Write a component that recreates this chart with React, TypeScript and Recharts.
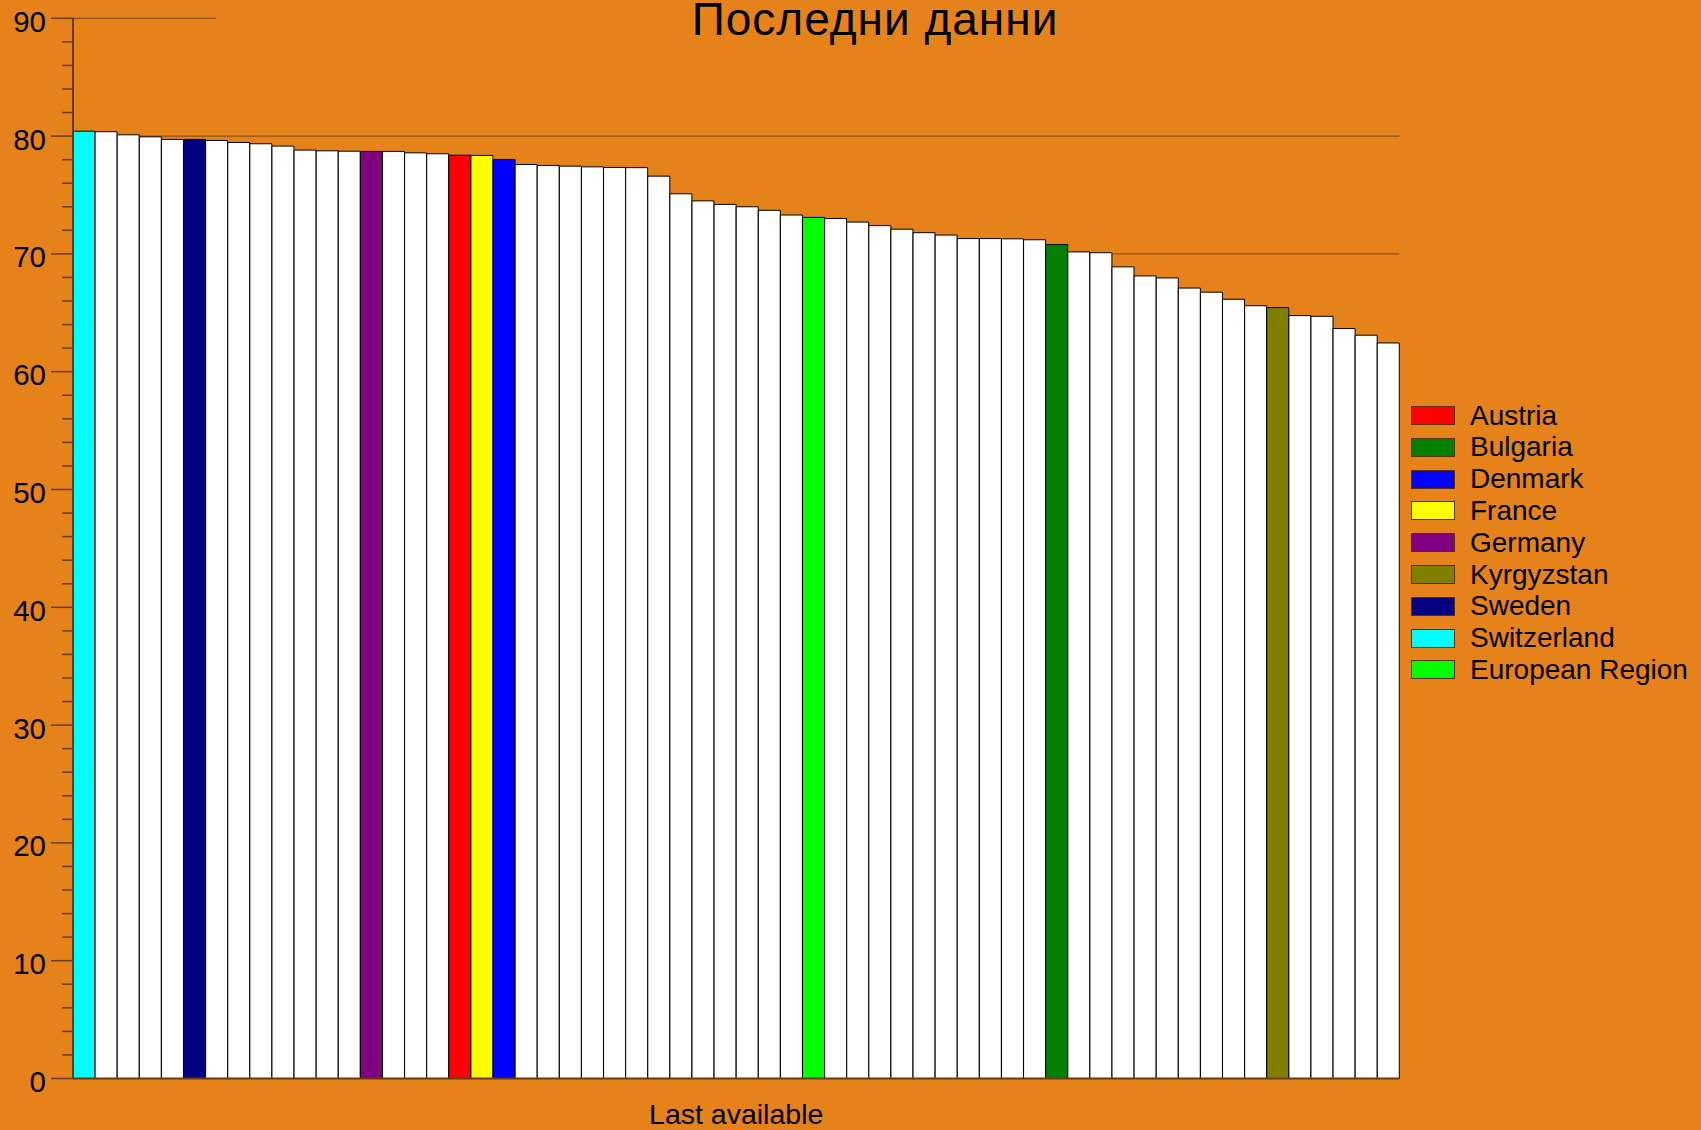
import React from "react";
import { BarChart, Bar, XAxis, YAxis, CartesianGrid, ReferenceLine, Cell, Label } from "recharts";

const categories = [
  "Switzerland", "c02", "c03", "c04", "c05", "Sweden", "c07", "c08", "c09", "c10",
  "c11", "c12", "c13", "Germany", "c15", "c16", "c17", "Austria", "France", "Denmark",
  "c21", "c22", "c23", "c24", "c25", "c26", "c27", "c28", "c29", "c30",
  "c31", "c32", "c33", "European Region", "c35", "c36", "c37", "c38", "c39", "c40",
  "c41", "c42", "c43", "c44", "Bulgaria", "c46", "c47", "c48", "c49", "c50",
  "c51", "c52", "c53", "c54", "Kyrgyzstan", "c56", "c57", "c58", "c59", "c60",
];

const values = [
  80.42, 80.37, 80.11, 79.94, 79.72, 79.72, 79.63, 79.46, 79.35, 79.15,
  78.81, 78.75, 78.72, 78.7, 78.7, 78.58, 78.5, 78.38, 78.36, 78.02,
  77.59, 77.51, 77.45, 77.39, 77.34, 77.32, 76.6, 75.1, 74.5, 74.2,
  74.0, 73.7, 73.3, 73.1, 73.0, 72.7, 72.4, 72.1, 71.8, 71.6,
  71.3, 71.3, 71.28, 71.2, 70.8, 70.17, 70.1, 68.9, 68.13, 67.96,
  67.1, 66.75, 66.15, 65.6, 65.44, 64.76, 64.7, 63.66, 63.1, 62.44,
];

const legendNames = [
  "Austria", "Bulgaria", "Denmark", "France", "Germany",
  "Kyrgyzstan", "Sweden", "Switzerland", "European Region",
];
const legendColors = [
  "#FF0000", "#008000", "#0000FF", "#FFFF00", "#800080",
  "#808000", "#000080", "#00FFFF", "#00FF00",
];

const yTicks = [
  0, 2, 4, 6, 8, 10, 12, 14, 16, 18, 20, 22, 24, 26, 28, 30, 32, 34, 36, 38,
  40, 42, 44, 46, 48, 50, 52, 54, 56, 58, 60, 62, 64, 66, 68, 70, 72, 74, 76, 78,
  80, 82, 84, 86, 88, 90,
];
const gridValues = [70, 80];

const title = "Последни данни";
const xLabel = "Last available";

const BG = "#E5831A";
const AXIS = "#6B3A0A";
const GRID = "#8A5418";
const FONT = "'Liberation Sans', Arial, sans-serif";

const data = categories.map((name, i) => ({ name, value: values[i] }));

const colorFor = (name: string) => {
  const idx = legendNames.indexOf(name);
  return idx >= 0 ? legendColors[idx] : "#FFFFFF";
};

const YTick = (props: any) => {
  const { x, y, payload } = props;
  const major = payload.value % 10 === 0;
  return (
    <g>
      <line x1={x - (major ? 22 : 11)} x2={x} y1={y} y2={y} stroke={AXIS} strokeWidth={1.5} />
      {major && (
        <text
          x={x - 27}
          y={y}
          dy={3}
          textAnchor="end"
          dominantBaseline="central"
          fontSize={29.5}
          fontFamily={FONT}
          fill="#000"
        >
          {payload.value}
        </text>
      )}
    </g>
  );
};

const PartialLine = (props: any) => {
  const { x1, y1 } = props;
  return <line x1={x1} x2={x1 + 143} y1={y1} y2={y1} stroke={GRID} strokeWidth={1.2} />;
};

export default function App() {
  return (
    <div
      style={{
        position: "absolute",
        left: 0,
        top: 0,
        width: 1701,
        height: 1130,
        background: BG,
        fontFamily: FONT,
        overflow: "hidden",
      }}
    >
      <BarChart
        width={1701}
        height={1130}
        data={data}
        margin={{ top: 18.3, right: 301.6, bottom: 0, left: 0 }}
        barCategoryGap={0}
        barGap={0}
      >
        <CartesianGrid horizontal vertical={false} horizontalValues={gridValues} stroke={GRID} strokeWidth={1.2} />
        <XAxis
          dataKey="name"
          tick={false}
          tickLine={false}
          height={51.5}
          axisLine={{ stroke: AXIS, strokeWidth: 2 }}
        >
          <Label
            value={xLabel}
            position="insideBottom"
            offset={6.5}
            style={{ fontSize: 28.5, fontFamily: FONT, fill: "#000" }}
          />
        </XAxis>
        <YAxis
          width={73}
          domain={[0, 90]}
          ticks={yTicks}
          interval={0}
          tickSize={0}
          tickMargin={0}
          tickLine={false}
          tick={<YTick />}
          axisLine={{ stroke: AXIS, strokeWidth: 2 }}
        />
        <ReferenceLine y={90} shape={<PartialLine />} />
        <Bar dataKey="value" isAnimationActive={false} stroke="#000" strokeWidth={1}>
          {data.map((d, i) => (
            <Cell key={i} fill={colorFor(d.name)} />
          ))}
        </Bar>
      </BarChart>

      <div
        style={{
          position: "absolute",
          left: 0,
          width: 1750,
          top: 0,
          textAlign: "center",
          fontSize: 46,
          lineHeight: "38px",
          letterSpacing: 1,
          color: "#000",
          whiteSpace: "nowrap",
          pointerEvents: "none",
        }}
      >
        {title}
      </div>

      <div style={{ position: "absolute", left: 1411, top: 399.6 }}>
        {legendNames.map((n, i) => (
          <div key={n} style={{ display: "flex", alignItems: "center", height: 31.8 }}>
            <div
              style={{
                width: 42,
                height: 17,
                background: legendColors[i],
                border: "1px solid #5A3000",
                marginRight: 15,
              }}
            />
            <span style={{ fontSize: 28, lineHeight: "31.8px", color: "#000", whiteSpace: "nowrap" }}>{n}</span>
          </div>
        ))}
      </div>
    </div>
  );
}
